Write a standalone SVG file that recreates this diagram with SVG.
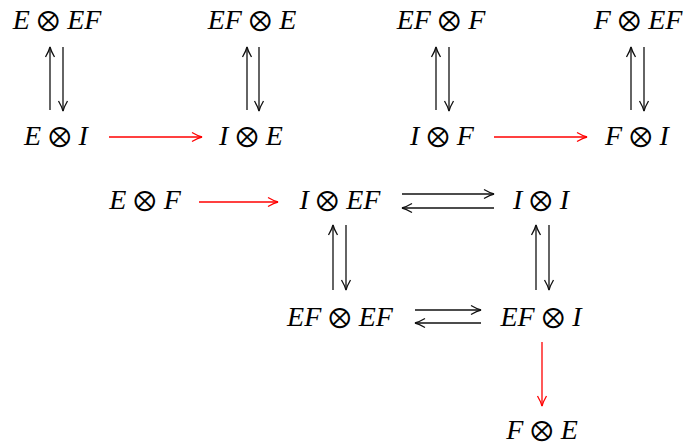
<svg xmlns="http://www.w3.org/2000/svg" width="685" height="444" viewBox="0 0 685 444">
<defs>
<marker id="hk" markerUnits="userSpaceOnUse" markerWidth="14" markerHeight="12" refX="11" refY="6" orient="auto" overflow="visible">
<path d="M1,1.5 Q7,5 11,6 Q7,7 1,10.5" fill="none" stroke="#111" stroke-width="1.3"/>
</marker>
<marker id="hr" markerUnits="userSpaceOnUse" markerWidth="14" markerHeight="12" refX="11" refY="6" orient="auto" overflow="visible">
<path d="M1,1.5 Q7,5 11,6 Q7,7 1,10.5" fill="none" stroke="#ff0000" stroke-width="1.3"/>
</marker>
<style>
.o{font-family:'Noto Sans Math','Noto Sans Symbols';font-style:normal;font-size:28px}
</style>
</defs>
<g font-family="'Liberation Serif', serif" font-style="italic" font-size="28" fill="#000" text-anchor="middle">
<g id="n1"><text x="57" y="29">E<tspan class="o" dx="7">⊗</tspan><tspan dx="7">EF</tspan></text></g>
<g id="n2"><text x="252" y="29">EF<tspan class="o" dx="7">⊗</tspan><tspan dx="7">E</tspan></text></g>
<g id="n3"><text x="441" y="29">EF<tspan class="o" dx="7">⊗</tspan><tspan dx="7">F</tspan></text></g>
<g id="n4"><text x="638" y="29">F<tspan class="o" dx="7">⊗</tspan><tspan dx="7">EF</tspan></text></g>
<g id="n5"><text x="56" y="145">E<tspan class="o" dx="7">⊗</tspan><tspan dx="7">I</tspan></text></g>
<g id="n6"><text x="251" y="145">I<tspan class="o" dx="7">⊗</tspan><tspan dx="7">E</tspan></text></g>
<g id="n7"><text x="442" y="145">I<tspan class="o" dx="7">⊗</tspan><tspan dx="7">F</tspan></text></g>
<g id="n8"><text x="637" y="145">F<tspan class="o" dx="7">⊗</tspan><tspan dx="7">I</tspan></text></g>
<g id="n9"><text x="145" y="209">E<tspan class="o" dx="7">⊗</tspan><tspan dx="7">F</tspan></text></g>
<g id="n10"><text x="340" y="209">I<tspan class="o" dx="7">⊗</tspan><tspan dx="7">EF</tspan></text></g>
<g id="n11"><text x="541" y="209">I<tspan class="o" dx="7">⊗</tspan><tspan dx="7">I</tspan></text></g>
<g id="n12"><text x="340" y="326">EF<tspan class="o" dx="7">⊗</tspan><tspan dx="7">EF</tspan></text></g>
<g id="n13"><text x="541" y="326">EF<tspan class="o" dx="7">⊗</tspan><tspan dx="7">I</tspan></text></g>
<g id="n14"><text x="542" y="439">F<tspan class="o" dx="7">⊗</tspan><tspan dx="7">E</tspan></text></g>
</g>
<g id="connectors" fill="none" stroke-width="1.3">
<g stroke="#111" marker-end="url(#hk)">
<line x1="50" y1="110" x2="50" y2="47"/>
<line x1="63" y1="47" x2="63" y2="111"/>
<line x1="247" y1="110" x2="247" y2="47"/>
<line x1="259" y1="47" x2="259" y2="111"/>
<line x1="436" y1="110" x2="436" y2="47"/>
<line x1="449" y1="47" x2="449" y2="111"/>
<line x1="631" y1="110" x2="631" y2="47"/>
<line x1="644" y1="47" x2="644" y2="111"/>
<line x1="402" y1="194" x2="494" y2="194"/>
<line x1="494" y1="208" x2="402" y2="208"/>
<line x1="333" y1="290" x2="333" y2="225"/>
<line x1="346" y1="225" x2="346" y2="290"/>
<line x1="536" y1="290" x2="536" y2="225"/>
<line x1="549" y1="225" x2="549" y2="290"/>
<line x1="415" y1="310" x2="481" y2="310"/>
<line x1="481" y1="323" x2="415" y2="323"/>
</g>
<g stroke="#ff0000" marker-end="url(#hr)">
<line x1="109" y1="137" x2="202" y2="137"/>
<line x1="494" y1="137" x2="587" y2="137"/>
<line x1="199" y1="202" x2="278" y2="202"/>
<line x1="542" y1="342" x2="542" y2="406"/>
</g>
</g>
</svg>
